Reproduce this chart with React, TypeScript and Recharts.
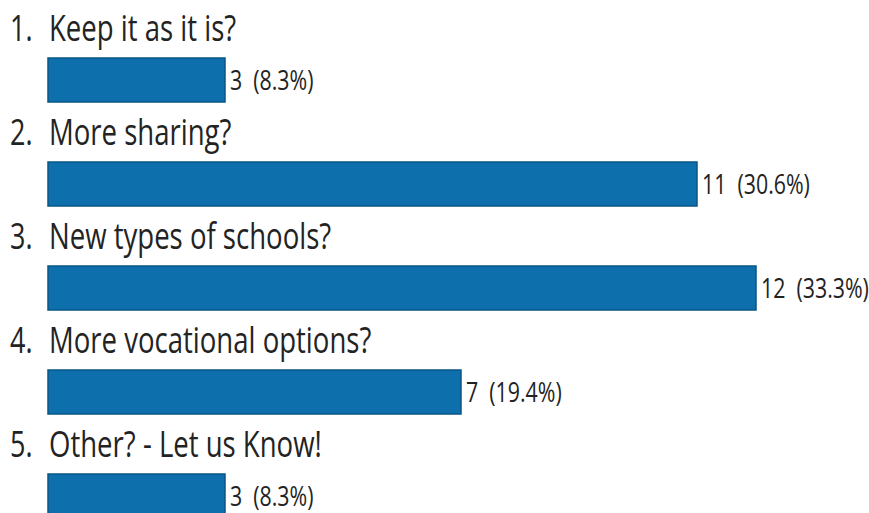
import { Bar, BarChart, LabelList, XAxis, YAxis } from 'recharts';

const questions = [
  'Keep it as it is?',
  'More sharing?',
  'New types of schools?',
  'More vocational options?',
  'Other? - Let us Know!',
];
const votes = [3, 11, 12, 7, 3];
const total = votes.reduce((a, b) => a + b, 0);

const data = questions.map((q, i) => ({
  num: `${i + 1}.`,
  question: q,
  votes: votes[i],
  label: `${votes[i]}  (${((votes[i] / total) * 100).toFixed(1)}%)`,
}));

const FONT = '"Open Sans", sans-serif';
const TEXT = '#232323';

const QuestionLabel = (props: any) => {
  const { x, y, index } = props;
  const row = data[index];
  return (
    <g>
      <text
        transform={`translate(10, ${y - 17}) scale(0.75, 1)`}
        fontFamily={FONT}
        fontSize={36}
        fill={TEXT}
      >
        {row.num}
      </text>
      <text
        transform={`translate(${x + 1}, ${y - 17}) scale(0.765, 1)`}
        fontFamily={FONT}
        fontSize={36}
        fill={TEXT}
      >
        {row.question}
      </text>
    </g>
  );
};

const ValueLabel = (props: any) => {
  const { x, y, width, height, index } = props;
  return (
    <text
      transform={`translate(${x + width + 5}, ${y + height / 2 + 10}) scale(0.79, 1)`}
      fontFamily={FONT}
      fontSize={27}
      fill={TEXT}
      style={{ whiteSpace: 'pre' }}
    >
      {data[index].label}
    </text>
  );
};

export default function App() {
  return (
    <div
      style={{
        position: 'fixed',
        left: 0,
        top: 0,
        width: 869,
        height: 513,
        overflow: 'hidden',
        background: '#fff',
      }}
    >
      <BarChart
        width={869}
        height={548}
        data={data}
        layout="vertical"
        margin={{ top: 28, right: 113, bottom: 0, left: 48 }}
      >
        <XAxis type="number" domain={[0, 12]} hide />
        <YAxis type="category" dataKey="question" hide />
        <Bar
          dataKey="votes"
          fill="#0e6fad"
          stroke="#0a5687"
          strokeWidth={1.5}
          barSize={44}
          isAnimationActive={false}
        >
          <LabelList dataKey="question" content={QuestionLabel} />
          <LabelList dataKey="label" content={ValueLabel} />
        </Bar>
      </BarChart>
    </div>
  );
}
